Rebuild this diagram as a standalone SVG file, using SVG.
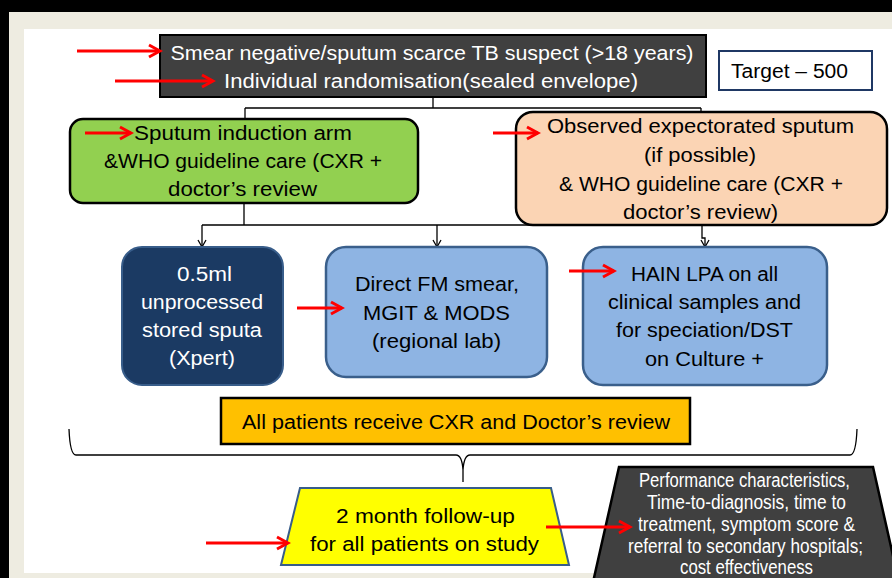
<svg xmlns="http://www.w3.org/2000/svg" width="892" height="578" viewBox="0 0 892 578">
<defs>
<style>
text{font-family:"Liberation Sans","Open Sans",sans-serif;font-size:20px;text-anchor:middle;fill:#000}
.w{fill:#fff}
.conn{fill:none;stroke:#000;stroke-width:1.3}
.red{fill:none;stroke:#ff0000;stroke-width:3}
.lab{fill:#8EB4E3;stroke:#3A5F8B;stroke-width:2.5}
</style>
<marker id="ah" markerWidth="10" markerHeight="10" refX="8" refY="5" orient="auto" markerUnits="userSpaceOnUse">
<path d="M1,1 L8,5 L1,9" fill="none" stroke="#000" stroke-width="1.3"/>
</marker>
<marker id="rh" markerWidth="16" markerHeight="16" refX="13" refY="8" orient="auto" markerUnits="userSpaceOnUse">
<path d="M2,2 L13,8 L2,14" fill="none" stroke="#ff0000" stroke-width="3"/>
</marker>
</defs>
<rect x="0" y="0" width="892" height="578" fill="#000"/>
<rect x="9" y="12" width="883" height="566" fill="#EEECE1"/>
<rect x="24" y="29" width="868" height="544" fill="#fff"/>

<g id="connectors">
<path class="conn" d="M433,97 V108 M245,108 H701"/>
<path class="conn" d="M245,108 V119"/>
<path class="conn" d="M701,108 V112"/>
<path class="conn" d="M244,203 V225 M202,225 H702"/>
<path class="conn" d="M202,225 V247" marker-end="url(#ah)"/>
<path class="conn" d="M437,225 V247" marker-end="url(#ah)"/>
<path class="conn" d="M702,224 V238 H705 V247" marker-end="url(#ah)"/>
<path class="conn" d="M69,429 Q70,455 76,455 H456 Q462,455 463,470 V482 M463,470 Q464,455 470,455 H850 Q856,455 857,429"/>
</g>

<g id="top">
<rect x="160" y="35" width="546" height="62" fill="#404040" stroke="#000" stroke-width="2"/>
<text class="w" x="432" y="60" font-size="22" textLength="523" lengthAdjust="spacingAndGlyphs">Smear negative/sputum scarce TB suspect (&gt;18 years)</text>
<text class="w" x="431" y="88" font-size="22" textLength="414" lengthAdjust="spacingAndGlyphs">Individual randomisation(sealed envelope)</text>
</g>

<g id="target">
<rect x="719" y="51" width="153" height="39" fill="#fff" stroke="#1F3864" stroke-width="2"/>
<text x="789.5" y="78" font-size="21" textLength="117" lengthAdjust="spacingAndGlyphs">Target – 500</text>
</g>

<g id="sputum-induction">
<rect x="70" y="119" width="348" height="84" rx="13" fill="#92D050" stroke="#000" stroke-width="2.5"/>
<text x="243" y="140" textLength="218" lengthAdjust="spacingAndGlyphs">Sputum induction arm</text>
<text x="243" y="168" textLength="278" lengthAdjust="spacingAndGlyphs">&amp;WHO guideline care (CXR +</text>
<text x="242.5" y="196" textLength="149" lengthAdjust="spacingAndGlyphs">doctor’s review</text>
</g>

<g id="expectorated">
<rect x="516" y="112" width="371" height="113" rx="17" fill="#FBD4B4" stroke="#000" stroke-width="2.5"/>
<text x="700.5" y="133" textLength="307" lengthAdjust="spacingAndGlyphs">Observed expectorated sputum</text>
<text x="700" y="162" textLength="112" lengthAdjust="spacingAndGlyphs">(if possible)</text>
<text x="701" y="191" textLength="284" lengthAdjust="spacingAndGlyphs">&amp; WHO guideline care (CXR +</text>
<text x="700.5" y="219" textLength="155" lengthAdjust="spacingAndGlyphs">doctor’s review)</text>
</g>

<g id="xpert">
<rect x="122" y="247" width="161" height="138" rx="20" fill="#1B3A63" stroke="#385D8A" stroke-width="2"/>
<text class="w" x="204.5" y="281" textLength="55" lengthAdjust="spacingAndGlyphs">0.5ml</text>
<text class="w" x="202" y="309" textLength="122" lengthAdjust="spacingAndGlyphs">unprocessed</text>
<text class="w" x="202" y="337" textLength="120" lengthAdjust="spacingAndGlyphs">stored sputa</text>
<text class="w" x="202" y="365" textLength="66" lengthAdjust="spacingAndGlyphs">(Xpert)</text>
</g>

<g id="regional-lab">
<rect class="lab" x="326" y="247" width="221" height="130" rx="20"/>
<text x="437" y="291" textLength="164" lengthAdjust="spacingAndGlyphs">Direct FM smear,</text>
<text x="436.5" y="320" textLength="147" lengthAdjust="spacingAndGlyphs">MGIT  &amp; MODS</text>
<text x="436.5" y="348" textLength="129" lengthAdjust="spacingAndGlyphs">(regional lab)</text>
</g>

<g id="hain">
<rect class="lab" x="583" y="247" width="244" height="138" rx="20"/>
<text x="704.5" y="281" textLength="147" lengthAdjust="spacingAndGlyphs">HAIN LPA on all</text>
<text x="704.5" y="309" textLength="193" lengthAdjust="spacingAndGlyphs">clinical samples and</text>
<text x="704.5" y="337" textLength="177" lengthAdjust="spacingAndGlyphs">for speciation/DST</text>
<text x="704.5" y="366" textLength="119" lengthAdjust="spacingAndGlyphs">on Culture +</text>
</g>

<g id="all-patients">
<rect x="221" y="398" width="469" height="46" fill="#FFC000" stroke="#000" stroke-width="2.5"/>
<text x="456" y="429" font-size="21" textLength="428" lengthAdjust="spacingAndGlyphs">All patients receive CXR and Doctor’s review</text>
</g>

<g id="follow-up">
<path d="M300,488 H551 L569,565 H281 Z" fill="#FFFF00" stroke="#385D8A" stroke-width="2"/>
<text x="425.5" y="523" textLength="179" lengthAdjust="spacingAndGlyphs">2 month follow-up</text>
<text x="424.5" y="551" textLength="229" lengthAdjust="spacingAndGlyphs">for all patients on study</text>
</g>

<g id="outcomes">
<path d="M619,467 H873 L903,600 H589 Z" fill="#404040" stroke="#000" stroke-width="2.5"/>
<text class="w" x="744.5" y="487" font-size="16" textLength="211" lengthAdjust="spacingAndGlyphs">Performance characteristics,</text>
<text class="w" x="746.5" y="509" font-size="16" textLength="199" lengthAdjust="spacingAndGlyphs">Time-to-diagnosis, time to</text>
<text class="w" x="746.5" y="531" font-size="16" textLength="217" lengthAdjust="spacingAndGlyphs">treatment, symptom score &amp;</text>
<text class="w" x="745.5" y="553" font-size="16" textLength="235" lengthAdjust="spacingAndGlyphs">referral to secondary hospitals;</text>
<text class="w" x="746.5" y="574" font-size="16" textLength="133" lengthAdjust="spacingAndGlyphs">cost effectiveness</text>
</g>

<g id="red-arrows">
<path class="red" d="M77,51 H160" marker-end="url(#rh)"/>
<path class="red" d="M115,81 H213" marker-end="url(#rh)"/>
<path class="red" d="M85,133 H131" marker-end="url(#rh)"/>
<path class="red" d="M493,133 H538" marker-end="url(#rh)"/>
<path class="red" d="M297,308 H342" marker-end="url(#rh)"/>
<path class="red" d="M569,271 H614" marker-end="url(#rh)"/>
<path class="red" d="M206,543 H288" marker-end="url(#rh)"/>
<path class="red" d="M546,527 H630" marker-end="url(#rh)"/>
</g>
</svg>
